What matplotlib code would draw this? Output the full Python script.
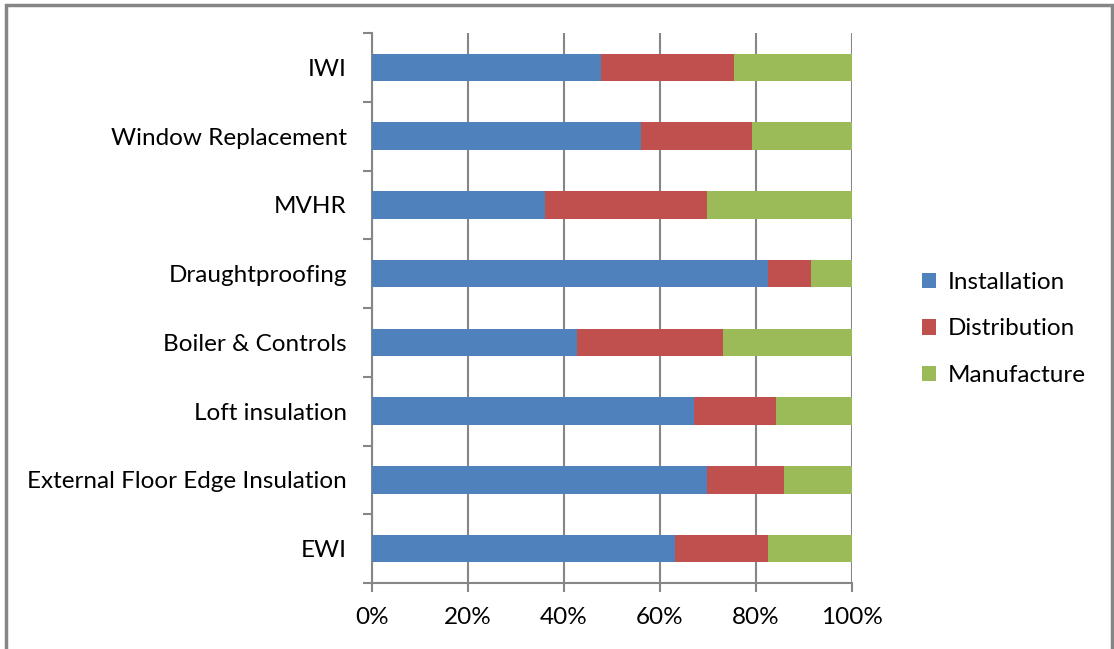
import numpy as np
import matplotlib.pyplot as plt
from matplotlib.patches import Rectangle
from matplotlib.ticker import FixedLocator, PercentFormatter

# categories bottom -> top
measures = ['EWI', 'External Floor Edge Insulation', 'Loft insulation',
            'Boiler & Controls', 'Draughtproofing', 'MVHR',
            'Window Replacement', 'IWI']
installation = [63.1, 69.7, 67.0, 42.8, 82.6, 36.1, 56.0, 47.8]
distribution = [19.5, 16.1, 17.1, 30.3, 8.8, 33.6, 23.1, 27.6]
manufacture = [17.4, 14.2, 15.9, 26.9, 8.6, 30.3, 20.9, 24.6]

series = ['Installation', 'Distribution', 'Manufacture']
colors = ['#4F81BD', '#C0504D', '#9BBB59']
grey = '#868686'

plt.rcParams['font.family'] = ['Lato', 'DejaVu Sans']

fig = plt.figure(figsize=(11.14, 6.49), dpi=100)
ax = fig.add_axes([372 / 1114, 1 - 583 / 649, 480 / 1114, 550 / 649])

y = np.arange(len(measures))
left = np.zeros(len(measures))
for name, vals, c in zip(series, [installation, distribution, manufacture], colors):
    ax.barh(y, vals, left=left, height=0.4, color=c, label=name, zorder=3)
    left += np.array(vals)

ax.set_xlim(0, 100)
ax.set_ylim(-0.5, len(measures) - 0.5)
ax.set_xticks(np.arange(0, 101, 20))
ax.xaxis.set_major_formatter(PercentFormatter(decimals=0))
ax.set_yticks(y)
ax.set_yticklabels(measures)
ax.yaxis.set_minor_locator(FixedLocator(np.arange(-0.5, len(measures), 1)))

ax.grid(axis='x', color=grey, linewidth=1.5, zorder=0)
for s in ['top', 'right']:
    ax.spines[s].set_visible(False)
for s in ['left', 'bottom']:
    ax.spines[s].set_color(grey)
    ax.spines[s].set_linewidth(1.5)

fs = 17.5
ax.tick_params(axis='y', which='major', length=0, pad=18, labelsize=fs)
ax.tick_params(axis='y', which='minor', length=6.5, width=1.5, color=grey)
ax.tick_params(axis='x', length=6.5, width=1.5, color=grey, pad=11, labelsize=fs)

ax.legend(loc='center left', bbox_to_anchor=(1.1, 0.462), frameon=False,
          fontsize=fs, handlelength=0.6, handleheight=0.6,
          handletextpad=0.45, labelspacing=1.05)

# outer chart border
fig.patches.append(Rectangle((6 / 1114, -0.05), 1106 / 1114, 1.05 - 5 / 649,
                             transform=fig.transFigure, fill=False,
                             edgecolor=grey, linewidth=2.5))

fig.savefig('out.png', dpi=100)
